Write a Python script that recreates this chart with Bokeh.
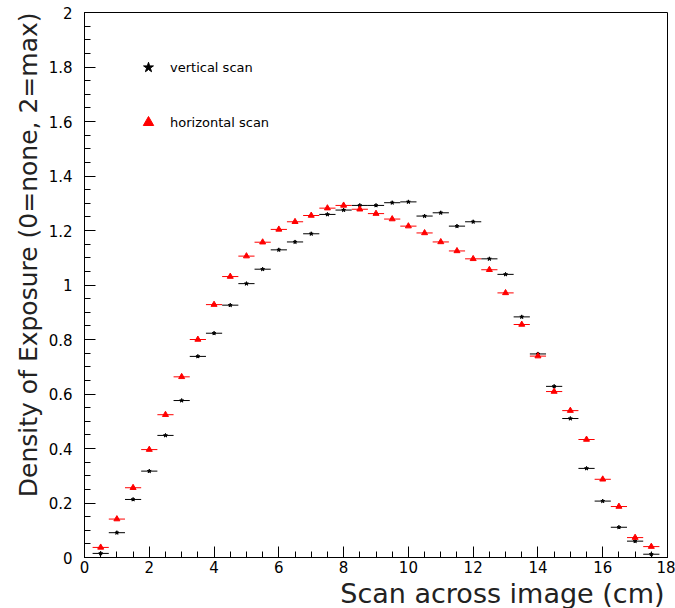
import numpy as np
from bokeh.plotting import figure
from bokeh.models import FixedTicker, Legend, LegendItem, ColumnDataSource, Title
from bokeh.embed import file_html
from bokeh.resources import INLINE

# ---- data ----
x_pos = [0.5, 1.0, 1.5, 2.0, 2.5, 3.0, 3.5, 4.0, 4.5, 5.0, 5.5, 6.0, 6.5, 7.0, 7.5,
         8.0, 8.5, 9.0, 9.5, 10.0, 10.5, 11.0, 11.5, 12.0, 12.5, 13.0, 13.5, 14.0,
         14.5, 15.0, 15.5, 16.0, 16.5, 17.0, 17.5]
x_err = 0.25
vertical_scan = [0.015, 0.091, 0.213, 0.317, 0.448, 0.576, 0.738, 0.823, 0.926, 1.005,
                 1.058, 1.129, 1.158, 1.188, 1.259, 1.275, 1.292, 1.292, 1.302, 1.305,
                 1.253, 1.265, 1.216, 1.232, 1.096, 1.039, 0.883, 0.747, 0.628, 0.510,
                 0.327, 0.207, 0.111, 0.060, 0.012]
horizontal_scan = [0.037, 0.141, 0.256, 0.396, 0.524, 0.663, 0.800, 0.928, 1.031, 1.106,
                   1.157, 1.204, 1.232, 1.255, 1.282, 1.292, 1.278, 1.262, 1.242, 1.216,
                   1.191, 1.158, 1.125, 1.096, 1.056, 0.971, 0.855, 0.739, 0.609, 0.539,
                   0.433, 0.287, 0.187, 0.073, 0.040]
series_names = ["vertical scan", "horizontal scan"]
x_ticks = [0, 2, 4, 6, 8, 10, 12, 14, 16, 18]
x_tick_labels = ["0", "2", "4", "6", "8", "10", "12", "14", "16", "18"]
y_ticks = [0, 0.2, 0.4, 0.6, 0.8, 1, 1.2, 1.4, 1.6, 1.8, 2]
y_tick_labels = ["0", "0.2", "0.4", "0.6", "0.8", "1", "1.2", "1.4", "1.6", "1.8", "2"]
x_title = "Scan across image (cm)"
y_title = "Density of Exposure (0=none, 2=max)"

FONT = "DejaVu Sans"

p = figure(width=675, height=608, output_backend="svg", toolbar_location=None,
           x_range=(0, 18), y_range=(0, 2),
           min_border_left=84, min_border_right=8, min_border_top=12, min_border_bottom=51)
p.background_fill_color = "white"
p.border_fill_color = "white"
p.outline_line_color = "black"
p.outline_line_width = 1
p.grid.visible = False

xs = np.array(x_pos)
vs = np.array(vertical_scan)
hs = np.array(horizontal_scan)

src_v = ColumnDataSource(dict(x=xs, y=vs, x0=xs - x_err, x1=xs + x_err))
src_h = ColumnDataSource(dict(x=xs, y=hs, x0=xs - x_err, x1=xs + x_err))

p.segment(x0="x0", x1="x1", y0="y", y1="y", source=src_v, line_color="black", line_width=1)
rv = p.scatter("x", "y", source=src_v, marker="star", size=4, color="black")
p.segment(x0="x0", x1="x1", y0="y", y1="y", source=src_h, line_color="red", line_width=1)
rh = p.scatter("x", "y", source=src_h, marker="triangle", size=6, color="red")

legend = Legend(items=[LegendItem(label=series_names[0], renderers=[rv]),
                       LegendItem(label=series_names[1], renderers=[rh])],
                location=(51, 422), orientation="vertical",
                glyph_width=26, glyph_height=26, label_height=26, spacing=29,
                label_standoff=9, padding=0, margin=0,
                border_line_alpha=0, background_fill_alpha=0,
                label_text_font=FONT, label_text_font_size="13px", label_text_color="black")
p.add_layout(legend)

# axes
p.xaxis.ticker = FixedTicker(ticks=x_ticks, minor_ticks=list(np.arange(0, 18.01, 0.5)))
p.yaxis.ticker = FixedTicker(ticks=y_ticks, minor_ticks=list(np.round(np.arange(0, 2.001, 0.05), 2)))
p.xaxis.major_label_overrides = dict(zip(x_ticks, x_tick_labels))
p.yaxis.major_label_overrides = dict(zip(y_ticks, y_tick_labels))

for ax in (p.xaxis[0], p.yaxis[0]):
    ax.axis_line_color = "black"
    ax.axis_line_width = 1
    ax.major_tick_in = 11
    ax.major_tick_out = 0
    ax.minor_tick_in = 6
    ax.minor_tick_out = 0
    ax.major_tick_line_color = "black"
    ax.minor_tick_line_color = "black"
    ax.major_label_text_font = FONT
    ax.major_label_text_font_size = "15px"
    ax.major_label_text_color = "black"

p.xaxis.major_label_standoff = 3
p.yaxis.major_label_standoff = 12

# axis titles, right-aligned at the axis ends as in the reference
xt = Title(text=x_title, align="right", offset=3, standoff=0,
           text_font=FONT, text_font_size="27px", text_font_style="normal",
           text_color="#222222")
yt = Title(text=y_title, align="right", offset=0, standoff=6,
           text_font=FONT, text_font_size="25px", text_font_style="normal",
           text_color="#222222")
p.add_layout(xt, "below")
p.add_layout(yt, "left")

open("out.html", "w").write(file_html(p, INLINE))
